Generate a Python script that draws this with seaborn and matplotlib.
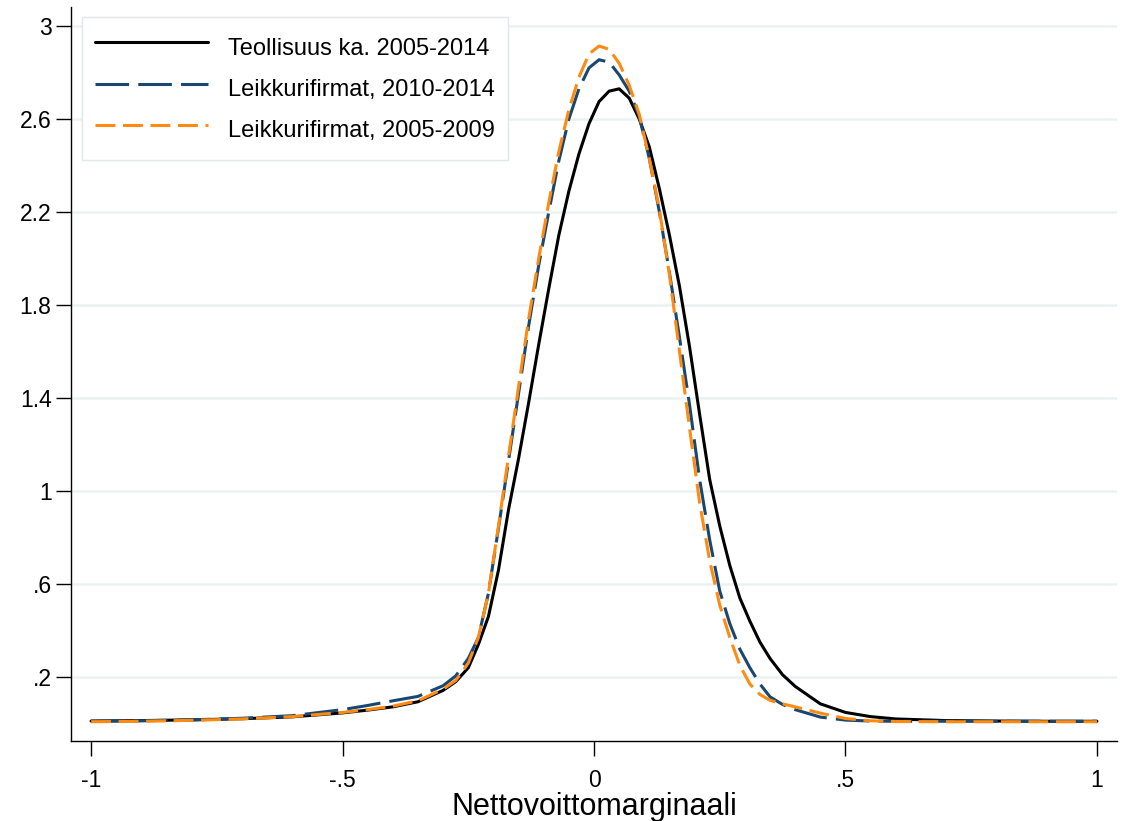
import numpy as np
import pandas as pd
import matplotlib
matplotlib.use('Agg')
import matplotlib.pyplot as plt
import seaborn as sns

#Data (kernel densities of the net profit margin)
x_arvot = [-1.0, -0.9, -0.8, -0.7, -0.6, -0.5, -0.45, -0.4, -0.35, -0.3, -0.275, -0.25,
           -0.23, -0.21, -0.19, -0.17, -0.15, -0.13, -0.11, -0.09, -0.07, -0.05, -0.03,
           -0.01, 0.01, 0.03, 0.05, 0.07, 0.09, 0.11, 0.13, 0.15, 0.17, 0.19, 0.21, 0.23,
           0.25, 0.27, 0.29, 0.31, 0.33, 0.35, 0.375, 0.4, 0.45, 0.5, 0.55, 0.6, 0.7,
           0.8, 0.9, 1.0]

teollisuus = [0.011, 0.013, 0.016, 0.021, 0.029, 0.046, 0.058, 0.072, 0.094, 0.143, 0.18, 0.24,
              0.34, 0.46, 0.66, 0.92, 1.14, 1.38, 1.63, 1.87, 2.10, 2.29, 2.45, 2.58,
              2.675, 2.72, 2.73, 2.69, 2.60, 2.48, 2.30, 2.10, 1.88, 1.62, 1.33, 1.05,
              0.85, 0.68, 0.54, 0.44, 0.35, 0.28, 0.21, 0.16, 0.085, 0.048, 0.03, 0.02,
              0.013, 0.011, 0.01, 0.01]

leikkuri_2010 = [0.01, 0.012, 0.016, 0.023, 0.034, 0.06, 0.078, 0.098, 0.117, 0.163, 0.205, 0.28,
                 0.37, 0.56, 0.84, 1.13, 1.42, 1.71, 1.97, 2.20, 2.42, 2.60, 2.73, 2.82,
                 2.855, 2.845, 2.79, 2.72, 2.61, 2.43, 2.20, 1.94, 1.66, 1.37, 1.05, 0.79,
                 0.57, 0.43, 0.32, 0.24, 0.17, 0.115, 0.082, 0.06, 0.028, 0.015, 0.011, 0.01,
                 0.01, 0.01, 0.01, 0.01]

leikkuri_2005 = [0.008, 0.01, 0.014, 0.02, 0.03, 0.048, 0.06, 0.075, 0.098, 0.148, 0.185, 0.26,
                 0.37, 0.56, 0.85, 1.15, 1.45, 1.74, 2.00, 2.24, 2.46, 2.64, 2.78, 2.88,
                 2.914, 2.90, 2.84, 2.745, 2.62, 2.43, 2.21, 1.93, 1.60, 1.27, 0.95, 0.70,
                 0.51, 0.37, 0.25, 0.17, 0.125, 0.10, 0.085, 0.072, 0.045, 0.022, 0.012, 0.009,
                 0.008, 0.008, 0.008, 0.008]

sarjat = ['Teollisuus ka. 2005-2014', 'Leikkurifirmat, 2010-2014', 'Leikkurifirmat, 2005-2009']
x_ticks = [-1, -0.5, 0, 0.5, 1]
x_tick_labels = ['-1', '-.5', '0', '.5', '1']
y_ticks = [0.2, 0.6, 1.0, 1.4, 1.8, 2.2, 2.6, 3.0]
y_tick_labels = ['.2', '.6', '1', '1.4', '1.8', '2.2', '2.6', '3']

df = pd.DataFrame({
    'x': x_arvot * 3,
    'tiheys': teollisuus + leikkuri_2010 + leikkuri_2005,
    'sarja': [s for s in sarjat for _ in x_arvot],
})

varit = {sarjat[0]: 'black', sarjat[1]: '#1a476f', sarjat[2]: '#ff8a12'}
viivat = {sarjat[0]: '', sarjat[1]: (11, 3), sarjat[2]: (6.5, 2.5)}

sns.set_style('white')
plt.rcParams['font.family'] = ['Liberation Sans', 'DejaVu Sans']

fig = plt.figure(figsize=(11.32, 8.21), dpi=100)
ax = fig.add_axes([0.0627, 0.0974, 0.9241, 0.8941])

sns.lineplot(data=df, x='x', y='tiheys', hue='sarja', style='sarja',
             hue_order=sarjat, style_order=sarjat, palette=varit, dashes=viivat,
             linewidth=2.2, errorbar=None, ax=ax)

ax.set_xlim(-1.04, 1.04)
ax.set_ylim(-0.075, 3.082)
ax.set_xticks(x_ticks)
ax.set_xticklabels(x_tick_labels)
ax.set_yticks(y_ticks)
ax.set_yticklabels(y_tick_labels)

# horizontal grid only
ax.yaxis.grid(True, color='#eaf2f3', linewidth=1.8)
ax.xaxis.grid(False)
ax.set_axisbelow(True)

sns.despine(ax=ax)
for side in ['left', 'bottom']:
    ax.spines[side].set_color('black')
    ax.spines[side].set_linewidth(1.0)

ax.tick_params(axis='both', direction='out', length=11, width=1, color='black',
               labelsize=16.5, labelcolor='black')
ax.tick_params(axis='x', pad=9)
ax.tick_params(axis='y', pad=3)
ax.tick_params(left=True, bottom=True)

ax.set_xlabel('Nettovoittomarginaali', fontsize=22, labelpad=0, color='black')
ax.set_ylabel('')

sns.move_legend(ax, 'upper left', bbox_to_anchor=(0.0105, 0.986), borderaxespad=0,
                title=None, fontsize=17, handlelength=4.8, handleheight=1.8,
                handletextpad=0.85, borderpad=0.55, labelspacing=0.34, frameon=True,
                fancybox=False, edgecolor='#dfe8ea', framealpha=1, labelcolor='black')

fig.savefig('out.png', dpi=100)
